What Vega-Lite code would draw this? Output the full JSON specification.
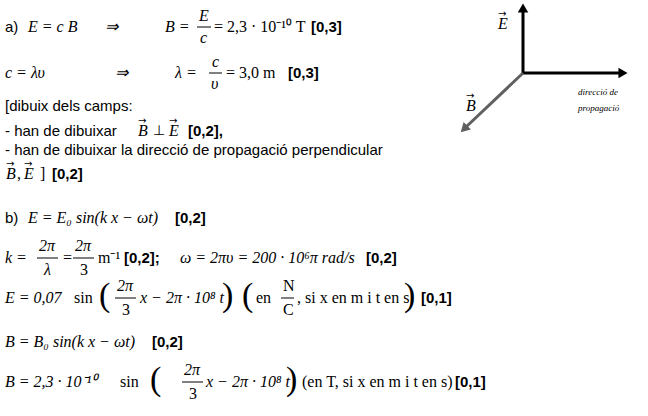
{
  "$schema": "https://vega.github.io/schema/vega-lite/v6.json",
  "width": 648,
  "height": 416,
  "padding": 0,
  "autosize": {"type": "fit", "contains": "padding"},
  "background": "white",
  "config": {"view": {"stroke": null}},
  "datasets": {
    "txt": [
      {"t": "a)", "x": 5, "y": 27, "k": "sans"},
      {"t": "E = c B", "x": 28, "y": 27, "k": "math"},
      {"t": "⇒", "x": 105, "y": 27, "k": "math"},
      {"t": "B =", "x": 165, "y": 27, "k": "math"},
      {"t": "E", "x": 199, "y": 16, "k": "math"},
      {"t": "c", "x": 200, "y": 38, "k": "math"},
      {"t": "= 2,3 · 10⁻¹⁰ T", "x": 214, "y": 27, "k": "mathup"},
      {"t": "[0,3]", "x": 311, "y": 27, "k": "bold"},
      {"t": "c = λυ", "x": 5, "y": 73, "k": "math"},
      {"t": "⇒", "x": 115, "y": 73, "k": "math"},
      {"t": "λ =", "x": 175, "y": 73, "k": "math"},
      {"t": "c", "x": 212, "y": 62, "k": "math"},
      {"t": "υ", "x": 211, "y": 84, "k": "math"},
      {"t": "= 3,0 m", "x": 226, "y": 73, "k": "mathup"},
      {"t": "[0,3]", "x": 288, "y": 73, "k": "bold"},
      {"t": "[dibuix dels camps:", "x": 5, "y": 106, "k": "sans"},
      {"t": "- han de dibuixar", "x": 5, "y": 131, "k": "sans"},
      {"t": "B", "x": 138, "y": 131, "k": "math"},
      {"t": "⊥", "x": 153, "y": 131, "k": "sym"},
      {"t": "E", "x": 169, "y": 131, "k": "math"},
      {"t": "[0,2],", "x": 188, "y": 131, "k": "bold"},
      {"t": "- han de dibuixar la direcció de propagació perpendicular", "x": 5, "y": 150, "k": "sans"},
      {"t": "B", "x": 6, "y": 174, "k": "math"},
      {"t": ",", "x": 17, "y": 174, "k": "mathup"},
      {"t": "E", "x": 24, "y": 174, "k": "math"},
      {"t": "]", "x": 40, "y": 174, "k": "mathup"},
      {"t": "[0,2]", "x": 52, "y": 174, "k": "bold"},
      {"t": "b)", "x": 5, "y": 218, "k": "sans"},
      {"t": "E = E₀ sin(k x − ωt)", "x": 28, "y": 218, "k": "math"},
      {"t": "[0,2]", "x": 175, "y": 218, "k": "bold"},
      {"t": "k =", "x": 5, "y": 258, "k": "math"},
      {"t": "2π", "x": 39, "y": 246, "k": "math"},
      {"t": "λ", "x": 44, "y": 270, "k": "math"},
      {"t": "=", "x": 62, "y": 258, "k": "math"},
      {"t": "2π", "x": 75, "y": 246, "k": "math"},
      {"t": "3", "x": 80, "y": 270, "k": "mathup"},
      {"t": "m⁻¹", "x": 98, "y": 258, "k": "mathup"},
      {"t": "[0,2];", "x": 124, "y": 258, "k": "bold"},
      {"t": "ω = 2πυ = 200 · 10⁶π rad/s", "x": 180, "y": 258, "k": "math"},
      {"t": "[0,2]", "x": 366, "y": 258, "k": "bold"},
      {"t": "E = 0,07", "x": 5, "y": 298, "k": "math"},
      {"t": "sin", "x": 74, "y": 298, "k": "mathup"},
      {"t": "(", "x": 99, "y": 298, "k": "big"},
      {"t": "2π", "x": 117, "y": 286, "k": "math"},
      {"t": "3", "x": 122, "y": 310, "k": "mathup"},
      {"t": "x − 2π · 10⁸ t", "x": 140, "y": 298, "k": "math"},
      {"t": ")", "x": 222, "y": 298, "k": "big"},
      {"t": "(", "x": 242, "y": 298, "k": "big"},
      {"t": "en", "x": 256, "y": 298, "k": "mathup"},
      {"t": "N", "x": 283, "y": 286, "k": "mathup"},
      {"t": "C", "x": 283, "y": 310, "k": "mathup"},
      {"t": ", si x en m i t en s", "x": 297, "y": 298, "k": "mathup"},
      {"t": ")", "x": 404, "y": 298, "k": "big"},
      {"t": "[0,1]", "x": 421, "y": 298, "k": "bold"},
      {"t": "B = B₀ sin(k x − ωt)", "x": 5, "y": 342, "k": "math"},
      {"t": "[0,2]", "x": 152, "y": 342, "k": "bold"},
      {"t": "B = 2,3 · 10⁻¹⁰", "x": 5, "y": 382, "k": "math"},
      {"t": "sin", "x": 120, "y": 382, "k": "mathup"},
      {"t": "(", "x": 150, "y": 382, "k": "big"},
      {"t": "2π", "x": 184, "y": 370, "k": "math"},
      {"t": "3", "x": 189, "y": 394, "k": "mathup"},
      {"t": "x − 2π · 10⁸ t", "x": 206, "y": 382, "k": "math"},
      {"t": ")", "x": 286, "y": 382, "k": "big"},
      {"t": "(en T, si x en m i t en s)", "x": 302, "y": 382, "k": "mathup"},
      {"t": "[0,1]", "x": 455, "y": 382, "k": "bold"},
      {"t": "E", "x": 498, "y": 24, "k": "math"},
      {"t": "B", "x": 466, "y": 106, "k": "math"},
      {"t": "→", "x": 138, "y": 121, "k": "vec"},
      {"t": "→", "x": 169, "y": 121, "k": "vec"},
      {"t": "→", "x": 6, "y": 164, "k": "vec"},
      {"t": "→", "x": 24, "y": 164, "k": "vec"},
      {"t": "→", "x": 498, "y": 14, "k": "vec"},
      {"t": "→", "x": 466, "y": 96, "k": "vec"}
    ],
    "small": [
      {"t": "direcció de", "x": 578, "y": 92},
      {"t": "propagació", "x": 578, "y": 108}
    ],
    "lines": [
      {"x": 197, "y": 27, "x2": 211, "y2": 27, "k": "bar"},
      {"x": 209, "y": 73, "x2": 222, "y2": 73, "k": "bar"},
      {"x": 37, "y": 258, "x2": 58, "y2": 258, "k": "bar"},
      {"x": 73, "y": 258, "x2": 94, "y2": 258, "k": "bar"},
      {"x": 115, "y": 298, "x2": 136, "y2": 298, "k": "bar"},
      {"x": 281, "y": 298, "x2": 294, "y2": 298, "k": "bar"},
      {"x": 182, "y": 382, "x2": 203, "y2": 382, "k": "bar"},
      {"x": 523, "y": 73, "x2": 523, "y2": 10, "k": "axis"},
      {"x": 523, "y": 73, "x2": 620, "y2": 73, "k": "axis"},
      {"x": 523, "y": 73, "x2": 466, "y2": 127, "k": "grey"}
    ],
    "heads": [
      {"x": 523, "y": 8, "a": 0, "k": "axis"},
      {"x": 623, "y": 73, "a": 90, "k": "axis"},
      {"x": 464, "y": 129, "a": 226, "k": "grey"}
    ]
  },
  "layer": [
    {
      "data": {"name": "lines"},
      "mark": {"type": "rule"},
      "encoding": {
        "x": {"field": "x", "type": "quantitative", "scale": {"domain": [0, 648]}, "axis": null},
        "y": {"field": "y", "type": "quantitative", "scale": {"domain": [0, 416], "reverse": true}, "axis": null},
        "x2": {"field": "x2"},
        "y2": {"field": "y2"},
        "color": {"condition": {"test": "datum.k == 'grey'", "value": "#606060"}, "value": "black"},
        "strokeWidth": {"condition": {"test": "datum.k == 'bar'", "value": 1}, "value": 3}
      }
    },
    {
      "data": {"name": "heads"},
      "mark": {"type": "point", "shape": "triangle-up", "filled": true, "size": 110, "opacity": 1},
      "encoding": {
        "x": {"field": "x", "type": "quantitative", "scale": {"domain": [0, 648]}, "axis": null},
        "y": {"field": "y", "type": "quantitative", "scale": {"domain": [0, 416], "reverse": true}, "axis": null},
        "angle": {"field": "a", "type": "quantitative", "scale": null},
        "color": {"condition": {"test": "datum.k == 'grey'", "value": "#606060"}, "value": "black"}
      }
    },
    {
      "data": {"name": "txt"},
      "transform": [{"filter": "datum.k == 'math'"}],
      "mark": {"type": "text", "align": "left", "baseline": "middle", "font": "Liberation Serif", "fontStyle": "italic", "fontSize": 16},
      "encoding": {
        "x": {"field": "x", "type": "quantitative", "scale": {"domain": [0, 648]}, "axis": null},
        "y": {"field": "y", "type": "quantitative", "scale": {"domain": [0, 416], "reverse": true}, "axis": null},
        "text": {"field": "t"},
        "color": {"value": "black"}
      }
    },
    {
      "data": {"name": "txt"},
      "transform": [{"filter": "datum.k == 'mathup'"}],
      "mark": {"type": "text", "align": "left", "baseline": "middle", "font": "Liberation Serif", "fontSize": 16},
      "encoding": {
        "x": {"field": "x", "type": "quantitative", "scale": {"domain": [0, 648]}, "axis": null},
        "y": {"field": "y", "type": "quantitative", "scale": {"domain": [0, 416], "reverse": true}, "axis": null},
        "text": {"field": "t"},
        "color": {"value": "black"}
      }
    },
    {
      "data": {"name": "txt"},
      "transform": [{"filter": "datum.k == 'big'"}],
      "mark": {"type": "text", "align": "left", "baseline": "middle", "font": "Liberation Serif", "fontSize": 34, "dy": -2},
      "encoding": {
        "x": {"field": "x", "type": "quantitative", "scale": {"domain": [0, 648]}, "axis": null},
        "y": {"field": "y", "type": "quantitative", "scale": {"domain": [0, 416], "reverse": true}, "axis": null},
        "text": {"field": "t"},
        "color": {"value": "black"}
      }
    },
    {
      "data": {"name": "txt"},
      "transform": [{"filter": "datum.k == 'sym'"}],
      "mark": {"type": "text", "align": "left", "baseline": "middle", "font": "DejaVu Sans", "fontSize": 14},
      "encoding": {
        "x": {"field": "x", "type": "quantitative", "scale": {"domain": [0, 648]}, "axis": null},
        "y": {"field": "y", "type": "quantitative", "scale": {"domain": [0, 416], "reverse": true}, "axis": null},
        "text": {"field": "t"},
        "color": {"value": "black"}
      }
    },
    {
      "data": {"name": "txt"},
      "transform": [{"filter": "datum.k == 'vec'"}],
      "mark": {"type": "text", "align": "left", "baseline": "middle", "font": "DejaVu Sans", "fontSize": 10},
      "encoding": {
        "x": {"field": "x", "type": "quantitative", "scale": {"domain": [0, 648]}, "axis": null},
        "y": {"field": "y", "type": "quantitative", "scale": {"domain": [0, 416], "reverse": true}, "axis": null},
        "text": {"field": "t"},
        "color": {"value": "black"}
      }
    },
    {
      "data": {"name": "txt"},
      "transform": [{"filter": "datum.k == 'sans'"}],
      "mark": {"type": "text", "align": "left", "baseline": "middle", "font": "Liberation Sans", "fontSize": 15},
      "encoding": {
        "x": {"field": "x", "type": "quantitative", "scale": {"domain": [0, 648]}, "axis": null},
        "y": {"field": "y", "type": "quantitative", "scale": {"domain": [0, 416], "reverse": true}, "axis": null},
        "text": {"field": "t"},
        "color": {"value": "black"}
      }
    },
    {
      "data": {"name": "txt"},
      "transform": [{"filter": "datum.k == 'bold'"}],
      "mark": {"type": "text", "align": "left", "baseline": "middle", "font": "Liberation Sans", "fontWeight": "bold", "fontSize": 15},
      "encoding": {
        "x": {"field": "x", "type": "quantitative", "scale": {"domain": [0, 648]}, "axis": null},
        "y": {"field": "y", "type": "quantitative", "scale": {"domain": [0, 416], "reverse": true}, "axis": null},
        "text": {"field": "t"},
        "color": {"value": "black"}
      }
    },
    {
      "data": {"name": "small"},
      "mark": {"type": "text", "align": "left", "baseline": "middle", "font": "Liberation Serif", "fontStyle": "italic", "fontSize": 9},
      "encoding": {
        "x": {"field": "x", "type": "quantitative", "scale": {"domain": [0, 648]}, "axis": null},
        "y": {"field": "y", "type": "quantitative", "scale": {"domain": [0, 416], "reverse": true}, "axis": null},
        "text": {"field": "t"},
        "color": {"value": "black"}
      }
    }
  ]
}
